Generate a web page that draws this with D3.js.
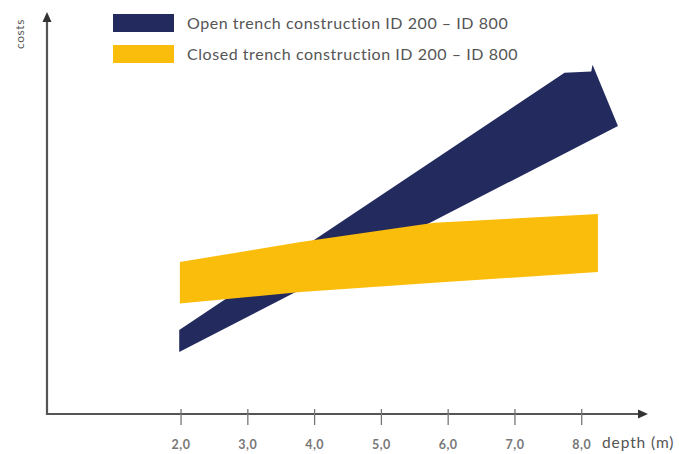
<!DOCTYPE html>
<html>
<head>
<meta charset="utf-8">
<script src="https://cdn.jsdelivr.net/npm/d3@7"></script>
<style>
  body { margin: 0; background: #fff; }
  svg text { font-family: Lato, "Open Sans", sans-serif; }
</style>
</head>
<body>
<svg width="679" height="454"></svg>
<script>
// band outlines, depth (m) / cost (arbitrary units)
const openTop = [[1.98, 21], [7.75, 85.3], [8.15, 85.6], [8.17, 87.3], [8.55, 72]]
const openBottom = [[1.98, 15.5], [8.55, 72]]

const closedDepth = [1.99, 3.8, 5.8, 8.25]
const closedHigh = [38, 43, 47.8, 50]
const closedLow = [27.6, 30.5, 32.8, 35.5]

const depthTicks = [2, 3, 4, 5, 6, 7, 8]
const legendLabels = ['Open trench construction ID 200 \u2013 ID 800', 'Closed trench construction ID 200 \u2013 ID 800']
const colors = ['#232b5e', '#fbbd0b']

document.addEventListener('DOMContentLoaded', () => {
    const svg = d3.select('svg')

    const x = d3.scaleLinear().domain([0, 9]).range([47, 648])
    const y = d3.scaleLinear().domain([0, 100]).range([414, 14])

    const line = d3.line().x(d => x(d[0])).y(d => y(d[1]))

    // open trench band (drawn first, yellow covers it)
    const openPoly = openTop.concat(openBottom.slice().reverse())
    svg.append('path')
        .attr('d', line(openPoly) + 'Z')
        .attr('fill', colors[0])

    // closed trench band
    const area = d3.area()
        .x((d, i) => x(closedDepth[i]))
        .y0((d, i) => y(closedLow[i]))
        .y1((d, i) => y(closedHigh[i]))
    svg.append('path')
        .attr('d', area(closedDepth))
        .attr('fill', colors[1])

    // axes
    const axisColor = '#555'
    svg.append('line')
        .attr('x1', x(0)).attr('y1', y(0))
        .attr('x2', x(9) - 6).attr('y2', y(0))
        .attr('stroke', axisColor).attr('stroke-width', 2.2)
    svg.append('path')
        .attr('d', `M${x(9)},${y(0)} L${x(9) - 10},${y(0) - 4.5} L${x(9) - 10},${y(0) + 4.5}Z`)
        .attr('fill', '#333')
    svg.append('line')
        .attr('x1', x(0)).attr('y1', y(0) + 1)
        .attr('x2', x(0)).attr('y2', y(100) + 6)
        .attr('stroke', axisColor).attr('stroke-width', 2.2)
    svg.append('path')
        .attr('d', `M${x(0)},${y(100) - 2} L${x(0) - 4.5},${y(100) + 8} L${x(0) + 4.5},${y(100) + 8}Z`)
        .attr('fill', '#333')

    const xAxis = svg.append('g')
        .attr('transform', `translate(0,${y(0)})`)
        .call(d3.axisBottom(x).tickValues(depthTicks).tickSize(11).tickSizeOuter(0).tickPadding(15)
            .tickFormat(d => d3.format('.1f')(d).replace('.', ',')))
    xAxis.select('.domain').remove()
    xAxis.selectAll('.tick line').attr('y1', -5).attr('stroke', '#777').attr('stroke-width', 1.3)
    xAxis.selectAll('.tick text')
        .attr('font-size', 12.5).attr('font-weight', 'bold').attr('fill', '#777')
        .attr('letter-spacing', 0.5)
        .style('font-family', 'Lato, sans-serif')

    svg.append('text')
        .attr('x', 602).attr('y', 448)
        .attr('font-size', 15.5).attr('fill', '#555')
        .attr('letter-spacing', 0.9)
        .text('depth (m)')

    svg.append('text')
        .attr('transform', `translate(24,34) rotate(-90)`)
        .attr('text-anchor', 'middle')
        .attr('font-size', 12).attr('fill', '#555')
        .attr('letter-spacing', 0.6)
        .text('costs')

    // legend
    legendLabels.forEach((t, i) => {
        const ly = 14 + i * 31
        svg.append('rect')
            .attr('x', 113).attr('y', ly).attr('width', 61).attr('height', 18)
            .attr('fill', colors[i])
        svg.append('text')
            .attr('x', 187).attr('y', ly + 9).attr('dy', '0.35em')
            .attr('font-size', 16).attr('fill', '#555')
            .attr('letter-spacing', 0.55)
            .text(t)
    })
})
</script>
</body>
</html>
